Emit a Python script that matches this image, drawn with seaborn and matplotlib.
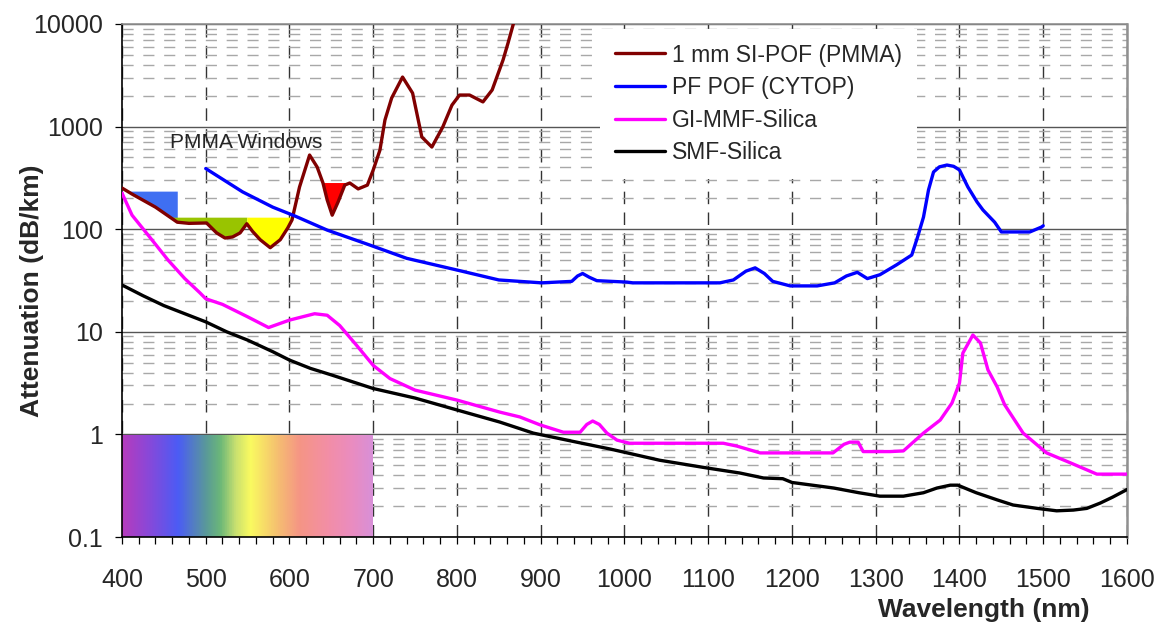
import numpy as np
import pandas as pd
import matplotlib
matplotlib.use("Agg")
import matplotlib.pyplot as plt
from matplotlib.colors import LinearSegmentedColormap
from matplotlib.ticker import FixedLocator, LogLocator, NullFormatter, MultipleLocator, FuncFormatter
import seaborn as sns

# ---------------- data ----------------
pof_nm = [400, 412, 440, 466, 480, 501, 513, 523, 532, 541, 549, 556, 565, 577, 589, 598, 603,
          612, 621, 624, 633, 640, 645, 651, 658, 666, 672, 682, 693, 700, 708, 714, 722, 735,
          747, 758, 770, 783, 794, 803, 815, 831, 842, 855, 861, 868]
pof_db = [252, 220, 164, 117, 114, 115, 92, 82, 84, 92, 113, 95, 79, 66, 79, 103, 123,
          258, 441, 528, 404, 282, 193, 137, 184, 269, 282, 247, 269, 378, 590, 1160, 1900, 3040,
          2120, 792, 632, 990, 1620, 2030, 2030, 1740, 2275, 4460, 6540, 10500]

cytop_nm = [500, 544, 580, 606, 645, 696, 740, 800, 850, 875, 901, 937, 944, 950, 958, 967,
            1003, 1010, 1114, 1130, 1145, 1156, 1167, 1177, 1198, 1230, 1251, 1265, 1278, 1290,
            1305, 1325, 1343, 1350, 1357, 1363, 1369, 1376, 1385, 1393, 1400, 1410, 1421, 1428,
            1442, 1450, 1484, 1498, 1500]
cytop_db = [390, 231, 164, 135, 98, 70, 52, 40, 32, 31, 30, 31, 35, 37, 34, 31.5,
            30.5, 30, 30, 32, 39, 42, 37, 31, 28, 28, 30, 35, 38, 33,
            36, 45, 56, 84, 131, 241, 361, 405, 422, 410, 378, 258, 184, 154,
            117, 94, 94, 105, 108]

gi_nm = [400, 412, 433, 455, 475, 493, 500, 520, 550, 575, 600, 630, 645, 660, 680, 700, 720,
         750, 800, 851, 875, 899, 927, 947, 955, 962, 970, 979, 991, 1006, 1118, 1134, 1162,
         1249, 1262, 1269, 1279, 1285, 1317, 1333, 1357, 1377, 1391, 1400, 1404, 1416, 1425,
         1434, 1445, 1454, 1476, 1504, 1532, 1564, 1600]
gi_db = [225, 137, 84, 50, 33, 24, 21, 18.5, 14, 11, 13, 15, 14.5, 11.5, 7.4, 4.7, 3.5,
         2.7, 2.16, 1.65, 1.48, 1.24, 1.05, 1.05, 1.25, 1.35, 1.25, 1.03, 0.88, 0.82, 0.82, 0.77, 0.66,
         0.66, 0.8, 0.84, 0.84, 0.68, 0.68, 0.69, 1.03, 1.38, 2.02, 3.17, 6.2, 9.3, 7.8,
         4.25, 2.9, 1.94, 1.03, 0.66, 0.53, 0.41, 0.41]

smf_nm = [400, 425, 450, 475, 500, 525, 550, 580, 600, 625, 650, 700, 750, 800, 851, 891, 943,
          983, 1042, 1099, 1138, 1166, 1189, 1200, 1250, 1280, 1305, 1333, 1357, 1373, 1389, 1398,
          1412, 1420, 1445, 1464, 1493, 1516, 1536, 1552, 1568, 1583, 1600]
smf_db = [28.6, 22.5, 18, 15, 12.5, 10, 8.3, 6.4, 5.3, 4.4, 3.8, 2.8, 2.26, 1.73, 1.32, 1.03, 0.84,
          0.72, 0.56, 0.47, 0.42, 0.376, 0.37, 0.34, 0.30, 0.27, 0.25, 0.25, 0.27, 0.30, 0.32, 0.32,
          0.287, 0.27, 0.23, 0.205, 0.19, 0.18, 0.183, 0.19, 0.214, 0.245, 0.29]

series_labels = ["1 mm SI-POF (PMMA)", "PF POF (CYTOP)", "GI-MMF-Silica", "SMF-Silica"]
series_colors = ["#800000", "#0000ff", "#ff00ff", "#000000"]

# PMMA transmission windows
win_start = [412, 466, 549, 638]
win_end = [466, 549, 605, 674]
win_level = [235, 131, 131, 285]
win_colors = ["#3f6ff2", "#99c400", "#ffff00", "#ff0000"]

# visible spectrum band
spec_nm = [400, 430, 466, 500, 517, 535, 553, 585, 612, 648, 675, 700]
spec_colors = ["#b43cbe", "#8a48d8", "#4b5cf5", "#5a9a98", "#6cb878", "#c8e070", "#fafa60",
               "#f5c070", "#f59585", "#f28ea8", "#ea8cc0", "#d890d8"]

x_ticks = [400, 500, 600, 700, 800, 900, 1000, 1100, 1200, 1300, 1400, 1500, 1600]
y_ticks = [0.1, 1, 10, 100, 1000, 10000]

# ---------------- plot ----------------
sns.set_style("white")
plt.rcParams["font.family"] = ["Liberation Sans", "DejaVu Sans"]

fig = plt.figure(figsize=(11.64, 6.28), dpi=100)
ax = fig.add_axes([0.1048, 0.1449, 0.8634, 0.8169])
ax.set_axisbelow(True)

# spectrum band
pos = [(n - spec_nm[0]) / (spec_nm[-1] - spec_nm[0]) for n in spec_nm]
cmap = LinearSegmentedColormap.from_list("spec", list(zip(pos, spec_colors)))
grad = np.linspace(0, 1, 400).reshape(1, -1)
ax.imshow(grad, cmap=cmap, extent=[spec_nm[0], spec_nm[-1], 0.1, 1], aspect="auto",
          origin="lower", zorder=1, interpolation="bilinear")

# windows
px = np.array(pof_nm, dtype=float)
py = np.array(pof_db, dtype=float)
for s, e, lv, c in zip(win_start, win_end, win_level, win_colors):
    mask = (px >= s) & (px <= e) & (py <= lv)
    ax.fill_between(px, py, lv, where=mask, interpolate=True, color=c, lw=0, zorder=2)

datasets = [(pof_nm, pof_db), (cytop_nm, cytop_db), (gi_nm, gi_db), (smf_nm, smf_db)]
for (xs, ys), lab, col in zip(datasets, series_labels, series_colors):
    df = pd.DataFrame({"nm": xs, "db": ys})
    sns.lineplot(data=df, x="nm", y="db", ax=ax, color=col, lw=2.4, label=lab, zorder=3)

ax.set_yscale("log")
ax.set_xlim(400, 1600)
ax.set_ylim(0.1, 10000)

ax.text(457, 707, "PMMA Windows", fontsize=15, ha="left", va="center", zorder=4)

# ticks
ax.xaxis.set_major_locator(FixedLocator(x_ticks))
ax.xaxis.set_minor_locator(MultipleLocator(20))
ax.yaxis.set_major_locator(FixedLocator(y_ticks))
ax.yaxis.set_minor_locator(LogLocator(base=10, subs=range(2, 10), numticks=20))
ax.yaxis.set_minor_formatter(NullFormatter())
ax.yaxis.set_major_formatter(FuncFormatter(lambda v, p: f"{v:g}"))
ax.tick_params(axis="x", which="both", direction="out", length=5, width=0.9, color="black",
               labelsize=18, pad=17, bottom=True)
ax.tick_params(axis="y", which="major", direction="out", length=5, width=0.9, color="black",
               labelsize=18, pad=9, left=True)
ax.tick_params(axis="y", which="minor", length=0)

# grid
ax.grid(False)
ax.grid(which="major", axis="y", color="#555555", lw=1.0, ls="-")
ax.grid(which="minor", axis="y", color="#a8a8a8", lw=1.0, ls=(0, (8, 7)))
ax.grid(which="major", axis="x", color="#333333", lw=1.0, ls=(0, (9, 6)))

for side in ["left", "bottom"]:
    ax.spines[side].set_color("black")
    ax.spines[side].set_linewidth(1.2)
ax.spines["top"].set_color("#909090")
ax.spines["top"].set_linewidth(1.2)
ax.spines["right"].set_color("#909090")
ax.spines["right"].set_linewidth(1.8)

ax.set_xlabel("Wavelength (nm)", fontsize=19, fontweight="bold")
ax.set_ylabel("Attenuation (dB/km)", fontsize=19, fontweight="bold")
ax.xaxis.set_label_coords(0.858, -0.118)
ax.yaxis.set_label_coords(-0.078, 0.48)

leg = ax.legend(loc="upper left", bbox_to_anchor=(0.4756, 0.991), frameon=True, fancybox=False,
                edgecolor="none", facecolor="white", framealpha=1, fontsize=16.5,
                handlelength=2.2, handletextpad=0.3, labelspacing=0.42, borderpad=0.65,
                borderaxespad=0)
for h in leg.get_lines():
    h.set_linewidth(2.4)

fig.savefig("out.png", dpi=100)
